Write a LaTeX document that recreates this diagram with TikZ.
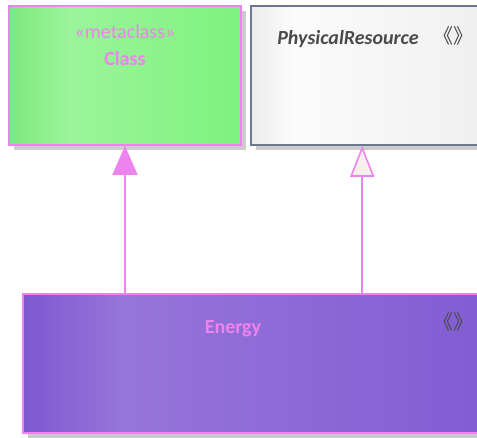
\documentclass[tikz,border=0pt]{standalone}
\usepackage{fontspec}
\setmainfont{Carlito}
\newfontfamily\cjk{Noto Sans CJK SC}
\usetikzlibrary{arrows.meta,shadows,calc}
\definecolor{pinkv}{HTML}{EE82EE}
\definecolor{slate}{HTML}{6C7890}
\definecolor{shadowgray}{HTML}{CCCCCC}
\definecolor{darktext}{HTML}{4A4A4A}
\definecolor{cream}{HTML}{F8F0EA}
\pgfdeclarehorizontalshading{greensh}{100bp}{color(0bp)=({rgb,255:red,125;green,232;blue,125});
 color(25bp)=({rgb,255:red,125;green,232;blue,125});
 color(38bp)=({rgb,255:red,155;green,245;blue,155}); color(75bp)=({rgb,255:red,126;green,242;blue,126});
 color(100bp)=({rgb,255:red,126;green,242;blue,126})}
\pgfdeclarehorizontalshading{graysh}{100bp}{color(0bp)=({rgb,255:red,236;green,236;blue,236});
 color(25bp)=({rgb,255:red,236;green,236;blue,236});
 color(33bp)=({rgb,255:red,251;green,251;blue,251}); color(75bp)=({rgb,255:red,238;green,238;blue,238});
 color(100bp)=({rgb,255:red,238;green,238;blue,238})}
\pgfdeclarehorizontalshading{purplesh}{100bp}{color(0bp)=({rgb,255:red,126;green,88;blue,208});
 color(25bp)=({rgb,255:red,126;green,88;blue,208});
 color(35bp)=({rgb,255:red,150;green,117;blue,217}); color(75bp)=({rgb,255:red,128;green,90;blue,210});
 color(100bp)=({rgb,255:red,128;green,90;blue,210})}
\tikzset{
  box/.style={rectangle, inner sep=0pt, drop shadow={shadow xshift=5pt, shadow yshift=-5pt, fill=shadowgray, opacity=1}},
  pinkbox/.style={box, draw=pinkv, line width=1.6pt},
  graybox/.style={box, draw=slate, line width=1.6pt},
  lbl/.style={anchor=base, inner sep=0pt, font=\fontsize{20}{24}\selectfont},
  conn/.style={draw=pinkv, line width=1.6pt},
}
\begin{document}
\begin{tikzpicture}[x=1pt,y=-1pt]
\useasboundingbox (0,0) rectangle (477,437);
\node[pinkbox, shading=greensh, minimum width=232pt, minimum height=139pt] (class) at (125,75.5) {};
\node[graybox, shading=graysh, minimum width=260pt, minimum height=139pt] (phys) at (381,75.5) {};
\node[pinkbox, shading=purplesh, minimum width=500pt, minimum height=139pt] (energy) at (273,363.5) {};
\node[lbl, text=pinkv] (st) at (125,38) {«metaclass»};
\node[lbl, text=pinkv, font=\fontsize{20}{24}\selectfont\bfseries] (cn) at (125,65) {Class};
\node[lbl, text=darktext, font=\fontsize{20}{24}\selectfont\bfseries\itshape] (pn) at (348,44) {PhysicalResource};
\node[lbl, text=darktext, font=\fontsize{20}{24}\cjk] (pm) at (453,43) {《》};
\node[lbl, text=darktext, font=\fontsize{20}{24}\cjk] (em) at (453,329) {《》};
\node[lbl, text=pinkv, font=\fontsize{20}{24}\selectfont\bfseries] (en) at (233,333) {Energy};
\coordinate (pa) at ([xshift=112pt]phys.south west);
\draw[conn, -{Triangle[length=29pt,width=25pt,fill=pinkv]}] (energy.north -| class.south) -- (class.south);
\draw[conn, -{Triangle[length=31pt,width=24pt,fill=cream]}] (energy.north -| pa) -- (pa);
\end{tikzpicture}
\end{document}
